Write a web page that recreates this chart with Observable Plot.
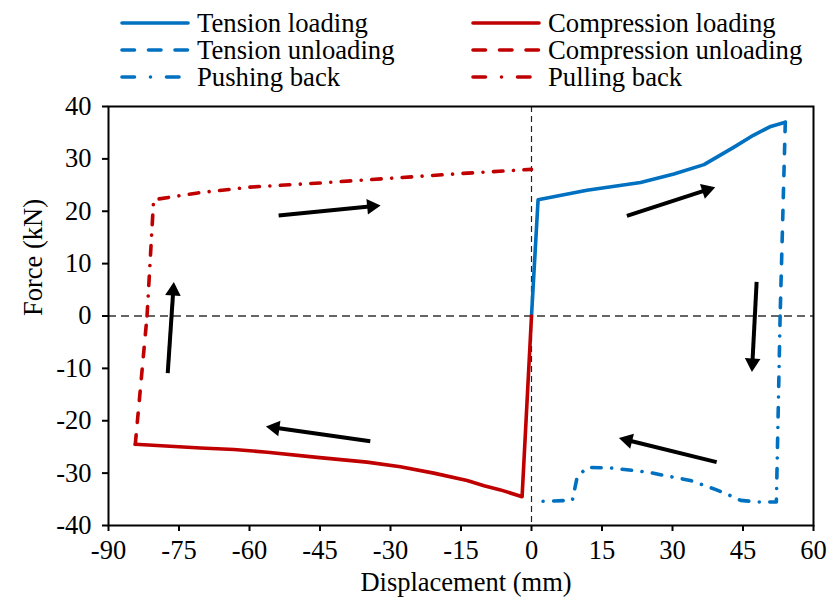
<!DOCTYPE html>
<html><head><meta charset="utf-8">
<script src="https://cdn.jsdelivr.net/npm/d3@7"></script>
<script src="https://cdn.jsdelivr.net/npm/@observablehq/plot@0.6"></script>
<style>
body{margin:0;background:#fff;font-family:"Liberation Serif","Times New Roman",serif;}
#legend{position:relative;width:838px;height:95px;}
.item{position:absolute;display:flex;align-items:center;font-size:26.7px;line-height:1;white-space:nowrap;color:#000;}
.item svg{margin-right:7px;}
</style></head><body>
<div id="legend"></div><div id="chart"></div>
<script>
// ---- data ----
const xTicks = [-90, -75, -60, -45, -30, -15, 0, 15, 30, 45, 60];
const yTicks = [-40, -30, -20, -10, 0, 10, 20, 30, 40];

const seriesNames = ["Tension loading", "Compression loading", "Tension unloading", "Compression unloading", "Pushing back", "Pulling back"];

const tensionLoadX = [0, 1.4, 11.8, 23.2, 30.3, 36.7, 43.0, 47.2, 50.9, 54.0];
const tensionLoadY = [0, 22.2, 24.0, 25.5, 27.1, 28.9, 32.2, 34.5, 36.2, 37.0];

const tensionUnloadX = [54.0, 52.9];
const tensionUnloadY = [37.0, 0];

const pushBackX = [52.9, 52.1, 48.0, 44.5, 42.3, 39.1, 33.8, 30.3, 24.6, 16.8, 11.8, 9.7, 8.7, 1.9];
const pushBackY = [0, -35.5, -35.5, -35.2, -34.3, -33.1, -31.4, -30.8, -29.8, -29.0, -28.9, -30.8, -35.2, -35.4];

const compLoadX = [0, -2.0, -6.6, -10.1, -13.7, -20.8, -27.9, -35.0, -45.6, -56.2, -63.3, -70.4, -84.3];
const compLoadY = [0, -34.5, -33.2, -32.4, -31.4, -30.0, -28.8, -27.9, -27.0, -26.0, -25.5, -25.2, -24.5];

const compUnloadX = [-84.3, -81.8];
const compUnloadY = [-24.5, 0];

const pullBackX = [-81.8, -80.4, -71.0, -60, -45, -30, -15, 0];
const pullBackY = [0, 22.2, 23.5, 24.6, 25.4, 26.3, 27.2, 28.0];

// arrows: start (x1,y1) -> tip (x2,y2)
const arrowX1 = [-53.8, 20.3, 47.9, 39.4, -34.3, -77.4];
const arrowY1 = [19.2, 19.1, 6.5, -27.9, -23.9, -10.9];
const arrowX2 = [-32.1, 39.1, 46.9, 18.6, -56.5, -76.1];
const arrowY2 = [21.1, 24.6, -10.7, -23.3, -21.1, 6.5];

// ---- styling ----
const BLUE = "#0070C0", RED = "#C00000";
const DASH = "9.5,12.5";
const DASHDOT = "9.5,10.5,0.01,10.5";
const styles = {
  "Tension loading": {color: BLUE, dash: null},
  "Compression loading": {color: RED, dash: null},
  "Tension unloading": {color: BLUE, dash: DASH},
  "Compression unloading": {color: RED, dash: DASH},
  "Pushing back": {color: BLUE, dash: DASHDOT},
  "Pulling back": {color: RED, dash: DASHDOT}
};

// ---- legend ----
const legend = document.getElementById("legend");
seriesNames.forEach((name, i) => {
  const col = i % 2, row = Math.floor(i / 2);
  const s = styles[name];
  const div = document.createElement("div");
  div.className = "item";
  div.style.left = (col === 0 ? 120 : 471) + "px";
  div.style.top = (10 + row * 27) + "px";
  div.style.height = "26px";
  let da = "";
  if (s.dash === DASH) da = 'stroke-dasharray="12.5,14"';
  if (s.dash === DASHDOT) da = 'stroke-dasharray="12.5,16,0.01,16"';
  div.innerHTML = `<svg width="70" height="10"><line x1="2" y1="5" x2="68" y2="5" stroke="${s.color}" stroke-width="3.6" stroke-linecap="round" ${da}/></svg><span>${name}</span>`;
  legend.appendChild(div);
});

// ---- chart ----
const W = 838, H = 510, ml = 108, mr = 25, mt = 11, mb = 80;
const toObjs = (xs, ys) => xs.map((x, i) => ({x, y: ys[i]}));
const seriesData = {
  "Tension loading": toObjs(tensionLoadX, tensionLoadY),
  "Compression loading": toObjs(compLoadX, compLoadY),
  "Tension unloading": toObjs(tensionUnloadX, tensionUnloadY),
  "Compression unloading": toObjs(compUnloadX, compUnloadY),
  "Pushing back": toObjs(pushBackX, pushBackY),
  "Pulling back": toObjs(pullBackX, pullBackY)
};

// pixel helpers (mirror the linear scales) for arrow-head geometry
const xs = d3.scaleLinear().domain([-90, 60]).range([ml, W - mr]);
const ys = d3.scaleLinear().domain([-40, 40]).range([H - mb, mt]);
const HEAD_R = 5.8;
const headSize = Math.PI * HEAD_R * HEAD_R;
const hy = Math.sqrt(headSize / (3 * Math.sqrt(3)));
const arrows = arrowX1.map((x1, i) => {
  const px1 = xs(x1), py1 = ys(arrowY1[i]), px2 = xs(arrowX2[i]), py2 = ys(arrowY2[i]);
  const L = Math.hypot(px2 - px1, py2 - py1);
  const ux = (px2 - px1) / L, uy = (py2 - py1) / L;
  const cx = px2 - 2 * hy * ux, cy = py2 - 2 * hy * uy;   // centroid of triangle
  const ex = px2 - 2.5 * hy * ux, ey = py2 - 2.5 * hy * uy; // shaft end
  return {
    x1, y1: arrowY1[i],
    sx: xs.invert(ex), sy: ys.invert(ey),
    hx: xs.invert(cx), hy: ys.invert(cy),
    angle: Math.atan2(ux, -uy) * 180 / Math.PI
  };
});

const fmt = d => String(d);
const lineMarks = seriesNames.map(name => Plot.line(seriesData[name], {
  x: "x", y: "y", stroke: styles[name].color, strokeWidth: 3.6,
  strokeDasharray: styles[name].dash || undefined,
  strokeLinecap: "round", strokeLinejoin: "round"
}));

const plot = Plot.plot({
  width: W, height: H,
  marginLeft: ml, marginRight: mr, marginTop: mt, marginBottom: mb,
  style: {fontFamily: "'Liberation Serif', 'Times New Roman', serif", fontSize: "26.5px", color: "black", background: "white", overflow: "visible"},
  x: {domain: [-90, 60], label: null},
  y: {domain: [-40, 40], label: null},
  marks: [
    Plot.ruleY([0], {stroke: "#333", strokeWidth: 1.3, strokeDasharray: "8,5"}),
    Plot.ruleX([0], {stroke: "#222", strokeWidth: 1.2, strokeDasharray: "6,4"}),
    ...lineMarks,
    Plot.link(arrows, {x1: "x1", y1: "y1", x2: "sx", y2: "sy", stroke: "black", strokeWidth: 4}),
    Plot.dot(arrows, {x: "hx", y: "hy", symbol: "triangle", r: HEAD_R, fill: "black", stroke: "none", rotate: "angle"}),
    Plot.frame({stroke: "black", strokeWidth: 2}),
    Plot.axisX(xTicks, {tickFormat: fmt, tickSize: 6, tickPadding: 9, strokeWidth: 2, label: null, fontSize: 26.5}),
    Plot.axisY(yTicks, {tickFormat: fmt, tickSize: 6, tickPadding: 11, strokeWidth: 2, label: null, fontSize: 26.5}),
    Plot.text(["Displacement (mm)"], {text: d => d, frameAnchor: "bottom", dy: 65, dx: 5, fontSize: 26.5}),
    Plot.text(["Force (kN)"], {text: d => d, frameAnchor: "left", rotate: -90, dx: -75, fontSize: 26.5})
  ]
});
document.getElementById("chart").appendChild(plot);
</script>
</body></html>
